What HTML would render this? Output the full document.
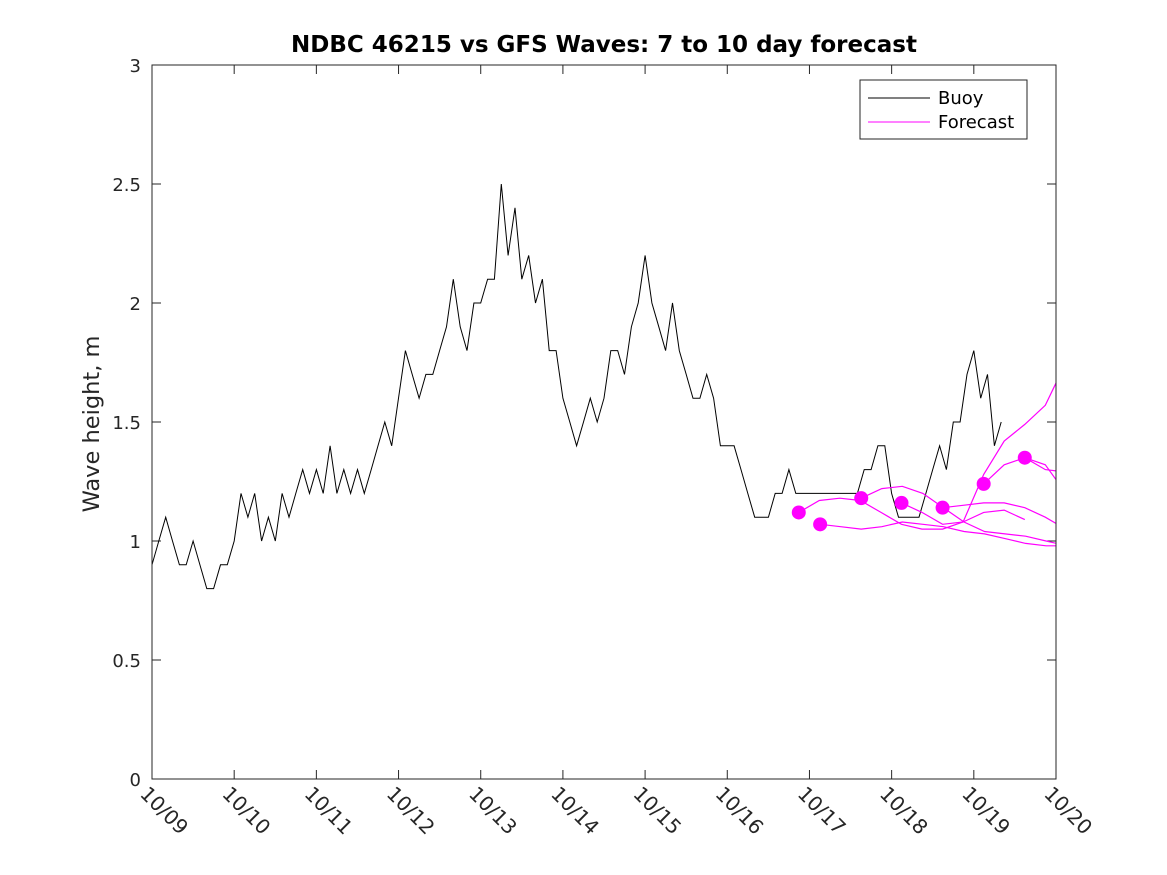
<!DOCTYPE html>
<html><head><meta charset="utf-8"><style>
body{margin:0;background:#fff;}
svg{display:block;font-family:"DejaVu Sans","Liberation Sans",sans-serif;}
</style></head><body>
<svg id="chart" width="1167" height="875" xmlns="http://www.w3.org/2000/svg">
<defs><clipPath id="pa"><rect x="152" y="65" width="904" height="714"/></clipPath></defs>
<rect width="1167" height="875" fill="#fff"/>
<text x="604" y="52" text-anchor="middle" font-size="23" font-weight="bold" fill="#000">NDBC 46215 vs GFS Waves: 7 to 10 day forecast</text>
<text transform="translate(99,424) rotate(-90)" text-anchor="middle" font-size="22.5" fill="#262626">Wave height, m</text>
<g id="axes"></g>
<g id="series" clip-path="url(#pa)"></g>
<rect x="152" y="65" width="904" height="714" fill="none" stroke="#262626" stroke-width="1"/>
<g>
<rect x="860" y="80" width="167" height="59" fill="#fff" stroke="#262626" stroke-width="1"/>
<line x1="868" y1="98" x2="930" y2="98" stroke="#000" stroke-width="1"/>
<text x="938" y="104" font-size="18" fill="#000">Buoy</text>
<line x1="868" y1="122" x2="930" y2="122" stroke="#f0f" stroke-width="1"/>
<text x="938" y="128" font-size="18" fill="#000">Forecast</text>
</g>
</svg>
<script>
const xTickLabels=["10/09","10/10","10/11","10/12","10/13","10/14","10/15","10/16","10/17","10/18","10/19","10/20"];
const yTickValues=[0,0.5,1,1.5,2,2.5,3];
const yTickLabels=["0","0.5","1","1.5","2","2.5","3"];
const buoyStepDays=1/12;
const buoyValues=[
0.9,1.0,1.1,1.0,0.9,0.9,1.0,0.9,0.8,0.8,0.9,0.9,
1.0,1.2,1.1,1.2,1.0,1.1,1.0,1.2,1.1,1.2,1.3,1.2,
1.3,1.2,1.4,1.2,1.3,1.2,1.3,1.2,1.3,1.4,1.5,1.4,
1.6,1.8,1.7,1.6,1.7,1.7,1.8,1.9,2.1,1.9,1.8,2.0,
2.0,2.1,2.1,2.5,2.2,2.4,2.1,2.2,2.0,2.1,1.8,1.8,
1.6,1.5,1.4,1.5,1.6,1.5,1.6,1.8,1.8,1.7,1.9,2.0,
2.2,2.0,1.9,1.8,2.0,1.8,1.7,1.6,1.6,1.7,1.6,1.4,
1.4,1.4,1.3,1.2,1.1,1.1,1.1,1.2,1.2,1.3,1.2,1.2,
1.2,1.2,1.2,1.2,1.2,1.2,1.2,1.2,1.3,1.3,1.4,1.4,
1.2,1.1,1.1,1.1,1.1,1.2,1.3,1.4,1.3,1.5,1.5,1.7,
1.8,1.6,1.7,1.4,1.5];
const forecastStepDays=0.25;
const forecastStarts=[7.87,8.13,8.63,9.12,9.62,10.12,10.62];
const forecast1=[1.12,1.17,1.18,1.17,1.12,1.07,1.05,1.05,1.08,1.12,1.13,1.09];
const forecast2=[1.07,1.06,1.05,1.06,1.08,1.07,1.06,1.04,1.03,1.01,0.99,0.98,0.98,1.06];
const forecast3=[1.18,1.22,1.23,1.20,1.14,1.08,1.04,1.03,1.02,1.00,0.98,0.97,0.97];
const forecast4=[1.16,1.12,1.07,1.08,1.28,1.42,1.49,1.57,1.75];
const forecast5=[1.14,1.15,1.16,1.16,1.14,1.10,1.05,1.00];
const forecast6=[1.24,1.32,1.35,1.30,1.29,1.29];
const forecast7=[1.35,1.32,1.20,1.10];
const forecasts=[forecast1,forecast2,forecast3,forecast4,forecast5,forecast6,forecast7];

const X0=152,X1=1056,Y0=779,Y1=65;
const xs=t=>X0+t*(X1-X0)/11;
const ys=v=>Y0-v*(Y0-Y1)/3;
const NS="http://www.w3.org/2000/svg";
function mk(tag,attrs,parent){const e=document.createElementNS(NS,tag);for(const k in attrs)e.setAttribute(k,attrs[k]);parent.appendChild(e);return e;}
const axes=document.getElementById('axes');
xTickLabels.forEach((lab,i)=>{
  const x=xs(i);
  const t1=mk('line',{x1:x,y1:Y0,x2:x,y2:Y0-9,stroke:'#262626'},axes);
  
  
  const t2=mk('line',{x1:x,y1:Y1,x2:x,y2:Y1+9,stroke:'#262626'},axes);
  
  
  const tx=mk('text',{x:0,y:0,transform:`translate(${x-13},${Y0+16}) rotate(45)`,'font-size':20,fill:'#262626'},axes);
  tx.textContent=lab;
  
  
});
yTickValues.forEach((v,i)=>{
  const y=ys(v);
  const a=mk('line',{x1:X0,y1:y,x2:X0+9,y2:y,stroke:'#262626'},axes);
  
  
  const b=mk('line',{x1:X1,y1:y,x2:X1-9,y2:y,stroke:'#262626'},axes);
  
  
  const tx=mk('text',{x:X0-11,y:y+7,'text-anchor':'end','font-size':18,fill:'#262626'},axes);
  tx.textContent=yTickLabels[i];
  
  
});
const series=document.getElementById('series');
const bp=buoyValues.map((v,i)=>xs(i*buoyStepDays).toFixed(1)+','+ys(v).toFixed(1)).join(' ');
const buoy=mk('polyline',{points:bp,fill:'none',stroke:'#000','stroke-width':1},series);


forecasts.forEach((vals,k)=>{
  const s=forecastStarts[k];
  const pts=vals.map((v,i)=>xs(s+i*forecastStepDays).toFixed(1)+','+ys(v).toFixed(1)).join(' ');
  const pl=mk('polyline',{points:pts,fill:'none',stroke:'#f0f','stroke-width':1.2},series);
  
  
});
forecasts.forEach((vals,k)=>{
  const c=mk('circle',{cx:xs(forecastStarts[k]),cy:ys(vals[0]),r:7,fill:'#f0f'},series);
  
  
});
</script>
</body></html>
